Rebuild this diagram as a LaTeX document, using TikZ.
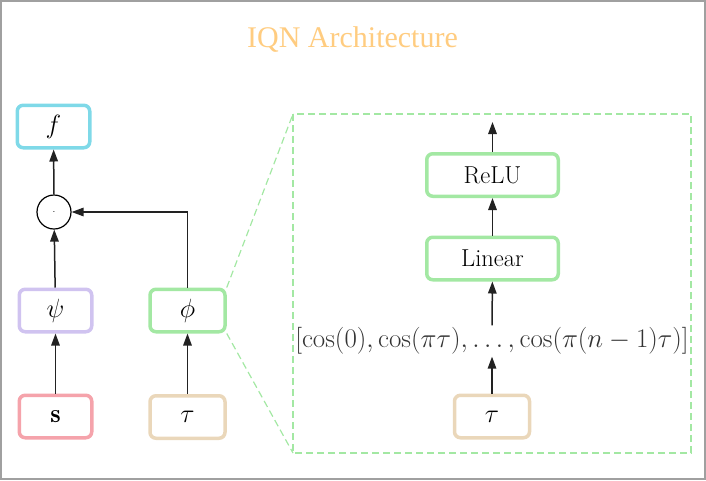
\RequirePackage{fix-cm}
\documentclass[tikz,border=0pt]{standalone}
\usepackage{fontspec}
\usetikzlibrary{arrows.meta}
\newfontfamily\titlefont{Liberation Serif}
\newcommand\mbx[2][1.2]{\scalebox{#1}{$#2$}}
\definecolor{cyanb}{HTML}{7FD9E8}
\definecolor{lavb}{HTML}{D0C3F0}
\definecolor{greenb}{HTML}{A3E8A3}
\definecolor{pinkb}{HTML}{F5A3AB}
\definecolor{tanb}{HTML}{EAD7BA}
\definecolor{titlec}{HTML}{FFCC80}
\definecolor{framec}{HTML}{A0A0A0}
\definecolor{arrowc}{HTML}{222222}
\tikzset{
  box/.style={draw, line width=3.5pt, rounded corners=6pt, minimum width=72.5pt, minimum height=42.5pt, inner sep=0pt, font=\fontsize{22}{26}\selectfont},
  widebox/.style={box, minimum width=131.5pt, font=\fontsize{24.5}{28}\selectfont},
  arr/.style={draw=arrowc, line width=1.5pt, -{Triangle[length=12pt,width=8.5pt]}},
  zoomline/.style={draw=greenb, line width=1.2pt, dash pattern=on 7pt off 4pt},
}
\begin{document}
\begin{tikzpicture}[x=1pt,y=-1pt]
\useasboundingbox (0,0) rectangle (706,480);
\draw[framec, line width=2pt] (1,1) rectangle (705,479);
\node[text=titlec, font=\titlefont\fontsize{30}{34}\selectfont] (title) at (352.5,40) {IQN Architecture};

\node[box, draw=cyanb] (f) at (53.5,126.5) {\mbx{f}};
\node[draw=black, circle, line width=1.2pt, minimum size=34pt, inner sep=0pt] (dot) at (54,212) {$\cdot$};
\node[box, draw=lavb] (psi) at (55.5,310.5) {\mbx{\psi}};
\node[box, draw=greenb, minimum width=75pt] (phi) at (187.5,310.5) {\mbx{\phi}};
\node[box, draw=pinkb] (s) at (55.5,416.5) {\mbx{\mathbf{s}}};
\node[box, draw=tanb, minimum width=75pt] (tau) at (187.5,417) {\mbx{\tau}};

\draw[arr] (s) -- (psi);
\draw[arr] (tau) -- (phi);
\draw[arr] (psi) -- (dot);
\draw[arr] (phi.north) |- (dot.east);
\draw[arr] (dot) -- (f);

% zoomed detail
\draw[zoomline] (293,114) rectangle (691,453);
\coordinate (zt) at (293,114);
\coordinate (zb) at (293,453);
\draw[zoomline] (phi.north east) -- (zt);
\draw[zoomline] (phi.south east) -- (zb);

\node[widebox, draw=greenb] (relu) at (492.5,175) {ReLU};
\node[widebox, draw=greenb] (lin) at (492.5,258.5) {Linear};
\node[text=black!80, inner sep=2pt, font=\fontsize{23}{26}\selectfont] (cos) at (492,341) {\mbx[1.17]{[\cos(0),\cos(\pi\tau),\ldots,\cos(\pi(n-1)\tau)]}};
\node[box, draw=tanb, minimum width=75pt] (tau2) at (492,416.5) {\mbx{\tau}};
\coordinate (out) at (492.5,122);

\draw[arr] (tau2) -- (cos);
\draw[arr] (cos) -- (lin);
\draw[arr] (lin) -- (relu);
\draw[arr] (relu) -- (out);
\end{tikzpicture}
\end{document}
